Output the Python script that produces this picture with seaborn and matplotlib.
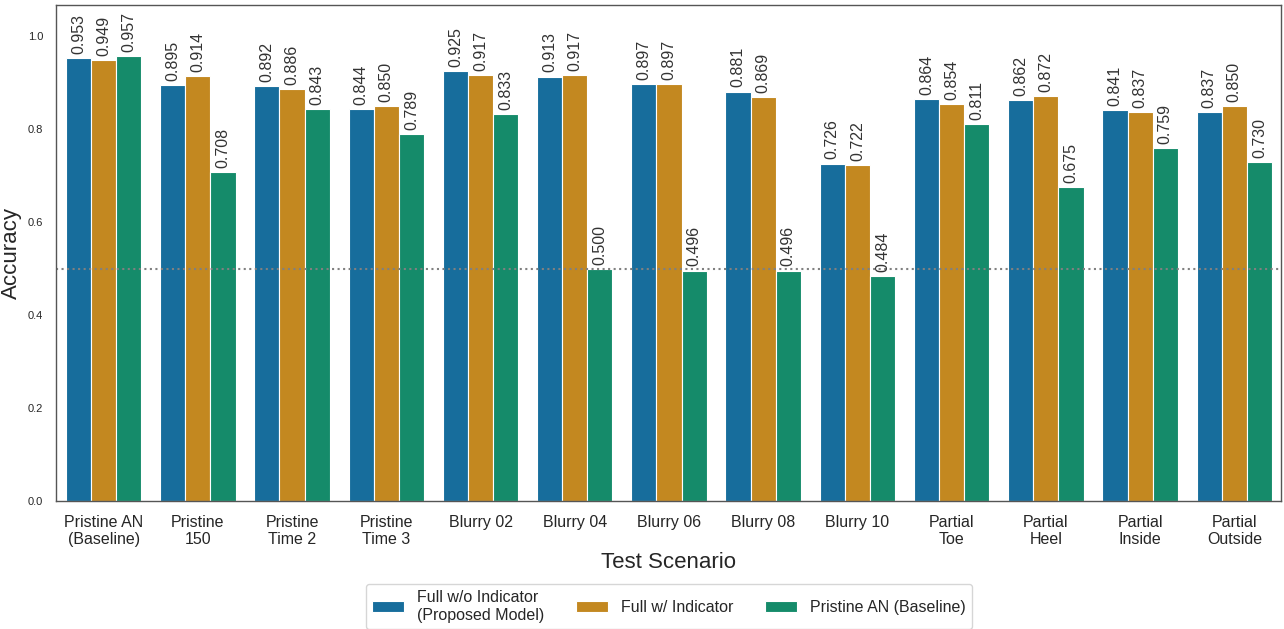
import numpy as np
import pandas as pd
import matplotlib
matplotlib.use("Agg")
import matplotlib.pyplot as plt
import seaborn as sns

scenarios = ["Pristine AN\n(Baseline)", "Pristine\n150", "Pristine\nTime 2", "Pristine\nTime 3",
             "Blurry 02", "Blurry 04", "Blurry 06", "Blurry 08", "Blurry 10",
             "Partial\nToe", "Partial\nHeel", "Partial\nInside", "Partial\nOutside"]
models = ["Full w/o Indicator\n(Proposed Model)", "Full w/ Indicator", "Pristine AN (Baseline)"]
full_wo = [0.953, 0.895, 0.892, 0.844, 0.925, 0.913, 0.897, 0.881, 0.726, 0.864, 0.862, 0.841, 0.837]
full_w = [0.949, 0.914, 0.886, 0.850, 0.917, 0.917, 0.897, 0.869, 0.722, 0.854, 0.872, 0.837, 0.850]
baseline = [0.957, 0.708, 0.843, 0.789, 0.833, 0.500, 0.496, 0.496, 0.484, 0.811, 0.675, 0.759, 0.730]

df = pd.DataFrame({
    "Test Scenario": scenarios * 3,
    "Model": [models[0]] * 13 + [models[1]] * 13 + [models[2]] * 13,
    "Accuracy": full_wo + full_w + baseline,
})

sns.set_theme(style="white")
plt.rcParams["font.family"] = ["Liberation Sans", "DejaVu Sans"]

fig, ax = plt.subplots(figsize=(12.84, 6.29), dpi=100)
sns.barplot(data=df, x="Test Scenario", y="Accuracy", hue="Model",
            palette="colorblind", saturation=0.75, ax=ax, edgecolor="white", linewidth=0.8)

for cont in ax.containers:
    ax.bar_label(cont, fmt="%.3f", rotation=90, padding=3, fontsize=11.5, color="#333333")

ax.axhline(0.5, color="gray", linestyle=":", linewidth=1.5)
ax.set_ylim(0, 1.067)
ax.set_ylabel("Accuracy", fontsize=16)
ax.set_xlabel("Test Scenario", fontsize=16)
ax.tick_params(axis="x", labelsize=11.5)
ax.tick_params(axis="y", labelsize=8)
for s in ax.spines.values():
    s.set_color("#555555")
    s.set_linewidth(1.0)

ax.legend(loc="upper center", bbox_to_anchor=(0.5, -0.15), ncol=3, fontsize=11.5, frameon=True)

plt.subplots_adjust(left=0.044, right=0.998, top=0.992, bottom=0.203)
plt.savefig("out.png", dpi=100)
